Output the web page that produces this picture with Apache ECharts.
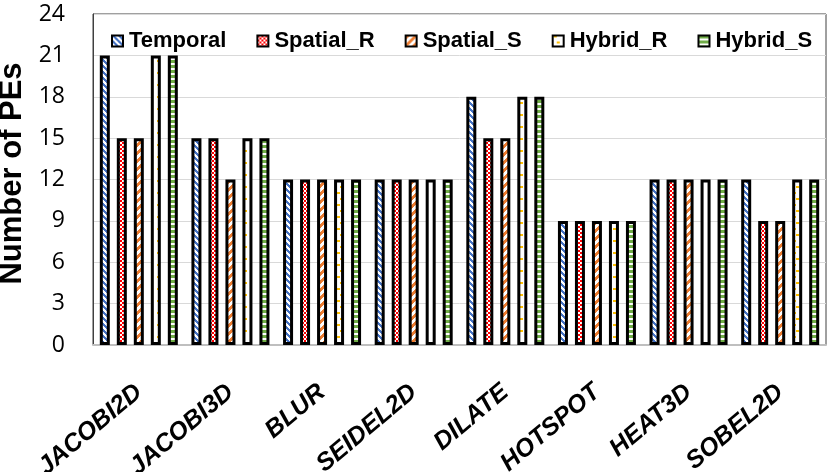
<!DOCTYPE html>
<html>
<head>
<meta charset="utf-8">
<script src="https://cdn.jsdelivr.net/npm/echarts@6/dist/echarts.min.js"></script>
<style>
html,body{margin:0;padding:0;background:#fff;}
#chart{width:831px;height:472px;}
</style>
</head>
<body>
<div id="chart"></div>
<script>
const categories = ['JACOBI2D','JACOBI3D','BLUR','SEIDEL2D','DILATE','HOTSPOT','HEAT3D','SOBEL2D'];
const seriesNames = ['Temporal','Spatial_R','Spatial_S','Hybrid_R','Hybrid_S'];
const temporal  = [21,15,12,12,18,9,12,12];
const spatialR  = [15,15,12,12,15,9,12,9];
const spatialS  = [15,12,12,12,15,9,12,9];
const hybridR   = [21,15,12,12,18,9,12,12];
const hybridS   = [21,15,12,12,18,9,12,12];
const yTicks = {min:0, max:24, interval:3};

function pattern(w, h, fn) {
  const c = document.createElement('canvas');
  c.width = w; c.height = h;
  const ctx = c.getContext('2d');
  ctx.fillStyle = '#ffffff';
  ctx.fillRect(0, 0, w, h);
  for (let y = 0; y < h; y++) {
    for (let x = 0; x < w; x++) {
      const col = fn(x, y);
      if (col) { ctx.fillStyle = col; ctx.fillRect(x, y, 1, 1); }
    }
  }
  return {image: c, repeat: 'repeat'};
}
const pTemporal = pattern(6, 6, (x, y) => ((((x - y) % 6) + 6) % 6) < 3 ? '#4472C4' : null);
const pSpatialR = pattern(4, 4, (x, y) => (((x >> 1) + (y >> 1)) % 2 === 0) ? '#FF0000' : null);
const pSpatialS = pattern(8, 8, (x, y) => ((x + y) % 8) < 4 ? '#ED7D31' : null);
const pHybridR  = pattern(12, 12, (x, y) => {
  if (y >= 0 && y < 2 && x >= 1 && x < 4) return '#FFC000';
  if (y >= 6 && y < 8 && x >= 4 && x < 7) return '#FFC000';
  return null;
});
const pHybridS  = pattern(5, 5, (x, y) => (y % 5) < 3 ? '#70AD47' : null);

const values = [temporal, spatialR, spatialS, hybridR, hybridS];
const fills = [pTemporal, pSpatialR, pSpatialS, pHybridR, pHybridS];

const chart = echarts.init(document.getElementById('chart'));
chart.setOption({
  animation: false,
  backgroundColor: '#ffffff',
  grid: {left: 93, right: 5, top: 14, bottom: 127, show: true, borderColor: '#404040', borderWidth: 1,
         containLabel: false, outerBoundsMode: 'none'},
  legend: {
    data: seriesNames,
    left: 106, top: 25,
    icon: 'rect',
    itemWidth: 11, itemHeight: 11,
    itemGap: 30,
    itemStyle: {borderColor: '#000', borderWidth: 2},
    textStyle: {fontFamily: 'Liberation Sans', fontWeight: 'bold', fontSize: 22, color: '#000', padding: [0, 0, 0, 1]}
  },
  xAxis: {
    type: 'category',
    data: categories,
    axisLine: {lineStyle: {color: '#bfbfbf', width: 2}},
    axisTick: {show: false},
    axisLabel: {
      rotate: 40, interval: 0, margin: 44,
      fontFamily: 'Liberation Sans', fontWeight: 'bold', fontStyle: 'italic',
      fontSize: 25, color: '#000'
    }
  },
  yAxis: {
    type: 'value',
    min: yTicks.min, max: yTicks.max, interval: yTicks.interval,
    name: 'Number of PEs',
    nameLocation: 'middle',
    nameGap: 56,
    nameTextStyle: {fontFamily: 'Liberation Sans', fontWeight: 'bold', fontSize: 31, color: '#000', padding: [0, 0, 0, 12]},
    axisLine: {show: true, lineStyle: {color: '#404040', width: 1}},
    axisTick: {show: false},
    splitLine: {lineStyle: {color: '#d9d9d9', width: 1}},
    axisLabel: {fontFamily: 'Open Sans', fontSize: 23, color: '#000', margin: 28}
  },
  series: seriesNames.map((n, i) => ({
    name: n,
    type: 'bar',
    data: values[i],
    barWidth: 10,
    barGap: '70%',
    itemStyle: {color: fills[i], borderColor: '#000', borderWidth: 3}
  }))
});
</script>
</body>
</html>
